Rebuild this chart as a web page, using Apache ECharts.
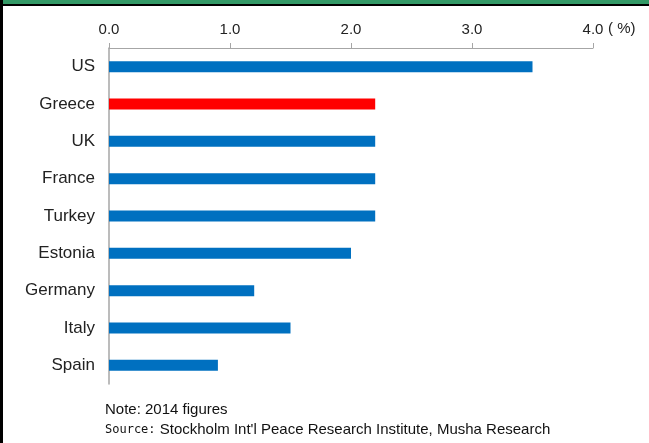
<!DOCTYPE html>
<html><head><meta charset="utf-8">
<script src="https://cdn.jsdelivr.net/npm/echarts@6/dist/echarts.min.js"></script>
<style>html,body{margin:0;padding:0;background:#fff}#c{width:649px;height:443px}</style>
</head><body><div id="c"></div>
<script>
const categories = ['US','Greece','UK','France','Turkey','Estonia','Germany','Italy','Spain'];
const values = [3.5, 2.2, 2.2, 2.2, 2.2, 2.0, 1.2, 1.5, 0.9];
const highlight = 'Greece';
const xTicks = [0, 1, 2, 3, 4];

const chart = echarts.init(document.getElementById('c'), null, {renderer:'canvas'});
chart.setOption({
  animation: false,
  backgroundColor: '#fff',
  grid: {left: 109, top: 48, right: 56, bottom: 59, containLabel: false},
  xAxis: {
    type: 'value', position: 'top', min: xTicks[0], max: xTicks[xTicks.length-1], interval: 1,
    axisLine: {show: true, lineStyle: {color: '#a6a6a6', width: 1}},
    axisTick: {show: true, length: 5, lineStyle: {color: '#a6a6a6'}},
    splitLine: {show: false},
    axisLabel: {formatter: v => v.toFixed(1), fontFamily: 'Liberation Sans, Arial', fontSize: 15, color: '#222', margin: 11}
  },
  yAxis: {
    type: 'category', data: categories, inverse: true,
    axisLine: {show: true, lineStyle: {color: '#a6a6a6', width: 1.5}},
    axisTick: {show: false},
    axisLabel: {fontFamily: 'Liberation Sans, Arial', fontSize: 17, color: '#222', margin: 14}
  },
  series: [{
    type: 'bar', barWidth: 11,
    data: values.map((v,i) => ({value: v, itemStyle: {color: categories[i] === highlight ? '#ff0000' : '#0070c0'}}))
  }],
  graphic: [
    {type: 'rect', shape: {x: 0, y: 0, width: 649, height: 4}, style: {fill: '#339966'}},
    {type: 'rect', shape: {x: 0, y: 4, width: 649, height: 2}, style: {fill: '#000'}},
    {type: 'rect', shape: {x: 0, y: 0, width: 3, height: 443}, style: {fill: '#000'}},
    {type: 'text', left: 608, top: 21, style: {text: '( %)', font: '15px "Liberation Sans", Arial', fill: '#222'}},
    {type: 'text', left: 105, top: 402, style: {text: 'Note: 2014 figures', font: '15px "Liberation Sans", Arial', fill: '#111'}},
    {type: 'text', left: 105, top: 422, style: {
      text: '{s|Source:} Stockholm Int\'l Peace Research Institute, Musha Research',
      font: '15px "Liberation Sans", Arial', fill: '#111',
      rich: {s: {fontFamily: 'DejaVu Sans Mono', fontSize: 12, fill: '#111'}}
    }}
  ]
});
</script></body></html>
